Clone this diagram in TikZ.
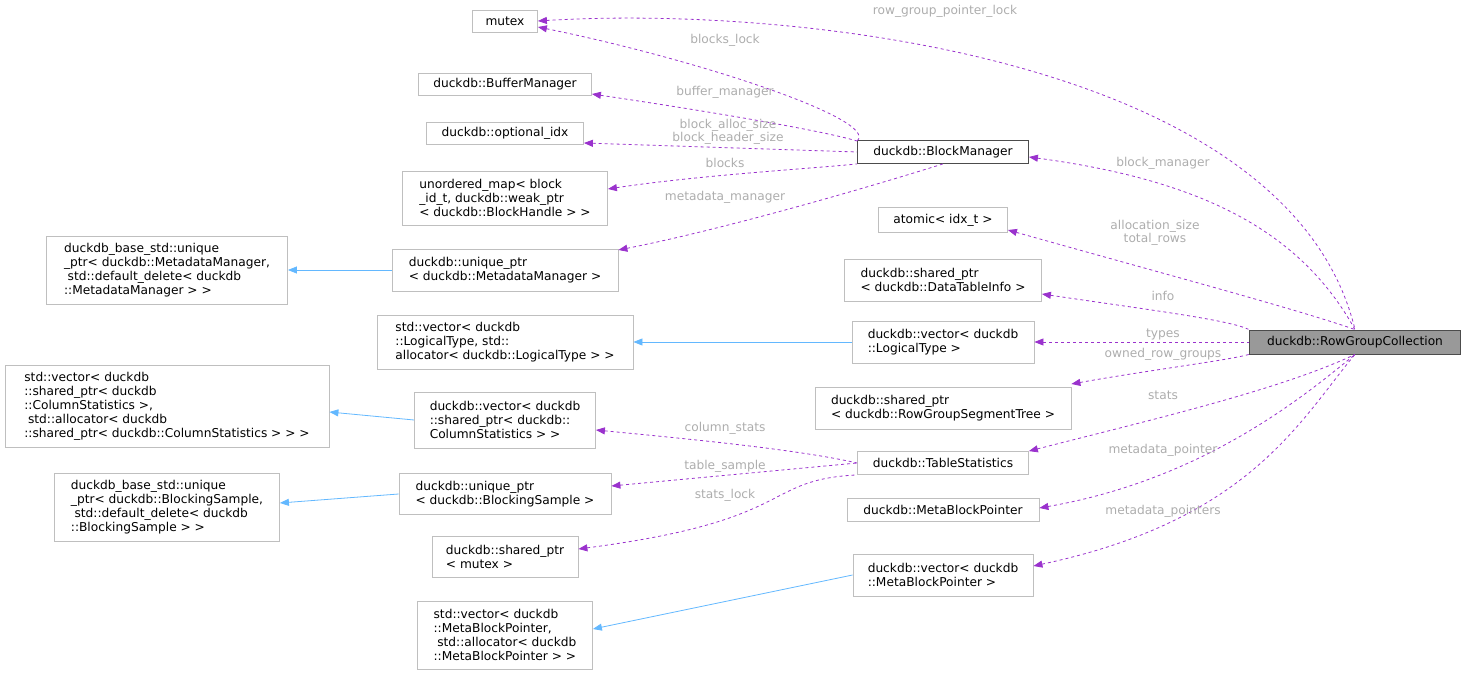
\documentclass[tikz,border=0pt]{standalone}
\usepackage{fontspec}
\setmainfont{DejaVu Sans}
\usetikzlibrary{arrows.meta}
\definecolor{edge}{HTML}{9A32CD}
\definecolor{inh}{HTML}{63B8FF}
\definecolor{lbl}{HTML}{ADADAD}
\definecolor{bd}{HTML}{BFBFBF}
\begin{document}
\begin{tikzpicture}[x=1pt,y=-1pt,
 box/.style={draw=bd,line width=0.8pt,inner sep=4pt,font=\fontsize{12.2}{14}\selectfont,align=left,fill=white},
 mem/.style={draw=edge,dashed,line width=0.8pt,{Triangle[length=9pt,width=7pt]}-},
 ih/.style={draw=inh,line width=0.8pt,{Triangle[length=9pt,width=7pt]}-},
 lab/.style={text=lbl,font=\fontsize{12.2}{12.5}\selectfont,align=center,inner sep=0pt}]
\useasboundingbox (0,0) rectangle (1465,676);
\node[box,minimum width=65,minimum height=22] (mutex) at (505,21) {mutex};
\node[box,minimum width=173,minimum height=22] (bufm) at (505,84) {duckdb::BufferManager};
\node[box,minimum width=157,minimum height=22] (opt) at (505,133) {duckdb::optional\_idx};
\node[box,minimum width=205,minimum height=54] (umap) at (505,198) {unordered\_map< block\\\_id\_t, duckdb::weak\_ptr\\< duckdb::BlockHandle > >};
\node[box,minimum width=226,minimum height=42] (upmm) at (505,270) {duckdb::unique\_ptr\\< duckdb::MetadataManager >};
\node[box,minimum width=241,minimum height=68] (bmm) at (167,270) {duckdb\_base\_std::unique\\\_ptr< duckdb::MetadataManager,\\\hspace*{0.3em}std::default\_delete< duckdb\\::MetadataManager > >};
\node[box,minimum width=256,minimum height=54] (svlt) at (505,342) {std::vector< duckdb\\::LogicalType, std::\\allocator< duckdb::LogicalType > >};
\node[box,draw=black!70,minimum width=171,minimum height=23] (bm) at (943,152) {duckdb::BlockManager};
\node[box,minimum width=129,minimum height=25] (atom) at (943,220) {atomic< idx\_t >};
\node[box,minimum width=197,minimum height=42] (dti) at (943,280) {duckdb::shared\_ptr\\< duckdb::DataTableInfo >};
\node[box,minimum width=182,minimum height=42] (vlt) at (943,342) {duckdb::vector< duckdb\\::LogicalType >};
\node[box,minimum width=256,minimum height=42] (rgst) at (943,408) {duckdb::shared\_ptr\\< duckdb::RowGroupSegmentTree >};
\node[box,minimum width=171,minimum height=23] (ts) at (943,463) {duckdb::TableStatistics};
\node[box,minimum width=192,minimum height=23] (mbp) at (943,510) {duckdb::MetaBlockPointer};
\node[box,minimum width=180,minimum height=42] (vmbp) at (943,575) {duckdb::vector< duckdb\\::MetaBlockPointer >};
\node[box,minimum width=324,minimum height=82] (svcs) at (167,406) {std::vector< duckdb\\::shared\_ptr< duckdb\\::ColumnStatistics >,\\\hspace*{0.3em}std::allocator< duckdb\\::shared\_ptr< duckdb::ColumnStatistics > > >};
\node[box,minimum width=181,minimum height=56] (vcs) at (505,420) {duckdb::vector< duckdb\\::shared\_ptr< duckdb::\\ColumnStatistics > >};
\node[box,minimum width=225,minimum height=68] (bbs) at (167,507) {duckdb\_base\_std::unique\\\_ptr< duckdb::BlockingSample,\\\hspace*{0.3em}std::default\_delete< duckdb\\::BlockingSample > >};
\node[box,minimum width=212,minimum height=41] (ubs) at (505,494) {duckdb::unique\_ptr\\< duckdb::BlockingSample >};
\node[box,minimum width=146,minimum height=41] (spm) at (505,557) {duckdb::shared\_ptr\\< mutex >};
\node[box,minimum width=175,minimum height=68] (svmbp) at (505,635) {std::vector< duckdb\\::MetaBlockPointer,\\\hspace*{0.3em}std::allocator< duckdb\\::MetaBlockPointer > >};
\node[box,draw=black!70,fill=black!40,minimum width=211,minimum height=24,align=center] (rgc) at (1355,342) {duckdb::RowGroupCollection};
% inheritance
\draw[ih] (bmm.east) -- (upmm.west);
\draw[ih] (svlt.east) -- (vlt.west);
\draw[ih] (svcs.east|-0,412) -- (vcs.west);
\draw[ih] (bbs.east|-0,503) -- (ubs.west);
\draw[ih] (svmbp.east|-0,629) -- (vmbp.west);
% members
\draw[mem] (mutex.east) .. controls (800,5) and (1290,60) .. (rgc.north);
\node[lab] (l1) at (945,11) {row\_group\_pointer\_lock};
\draw[mem] (mutex.east|-0,27) .. controls (700,60) and (880,120) .. (bm.north west|-0,141) ;
\node[lab] (l2) at (725,40) {blocks\_lock};
\draw[mem] (bufm.east|-0,94) .. controls (700,110) and (820,130) .. (bm.north west|-0,141);
\node[lab] (l3) at (725,92) {buffer\_manager};
\draw[mem] (opt.east|-0,143) -- (bm.west|-0,152);
\node[lab] (l4) at (728,132) {block\_alloc\_size\\block\_header\_size};
\draw[mem] (umap.east|-0,189) .. controls (700,175) and (820,168) .. (bm.south west);
\node[lab] (l5) at (725,163) {blocks};
\draw[mem] (upmm.east|-0,250) .. controls (720,230) and (860,190) .. (bm.south);
\node[lab] (l6) at (725,197) {metadata\_manager};
\draw[mem] (bm.east|-0,157) .. controls (1200,180) and (1300,230) .. (rgc.north);
\node[lab] (l7) at (1163,163) {block\_manager};
\draw[mem] (atom.east|-0,230) .. controls (1150,270) and (1300,310) .. (rgc.north);
\node[lab] (l8) at (1155,233) {allocation\_size\\total\_rows};
\draw[mem] (dti.east|-0,294) .. controls (1150,310) and (1230,320) .. (rgc.north west);
\node[lab] (l9) at (1163,296) {info};
\draw[mem] (vlt.east) -- (rgc.west);
\node[lab] (l10) at (1163,334) {types};
\draw[mem] (rgst.east|-0,384) .. controls (1150,370) and (1230,360) .. (rgc.south west);
\node[lab] (l11) at (1163,354) {owned\_row\_groups};
\draw[mem] (ts.north east) .. controls (1150,420) and (1280,390) .. (rgc.south);
\node[lab] (l12) at (1163,395) {stats};
\draw[mem] (mbp.east|-0,508) .. controls (1200,480) and (1300,400) .. (rgc.south);
\node[lab] (l13) at (1163,450) {metadata\_pointer};
\draw[mem] (vmbp.east|-0,566) .. controls (1250,520) and (1300,420) .. (rgc.south);
\node[lab] (l14) at (1163,511) {metadata\_pointers};
\draw[mem] (vcs.east|-0,430) .. controls (700,440) and (800,450) .. (ts.west);
\node[lab] (l15) at (725,428) {column\_stats};
\draw[mem] (ubs.east|-0,486) -- (ts.west);
\node[lab] (l16) at (725,466) {table\_sample};
\draw[mem] (spm.east|-0,549) .. controls (800,520) and (760,480) .. (ts.south west);
\node[lab] (l17) at (725,495) {stats\_lock};
\end{tikzpicture}
\end{document}
